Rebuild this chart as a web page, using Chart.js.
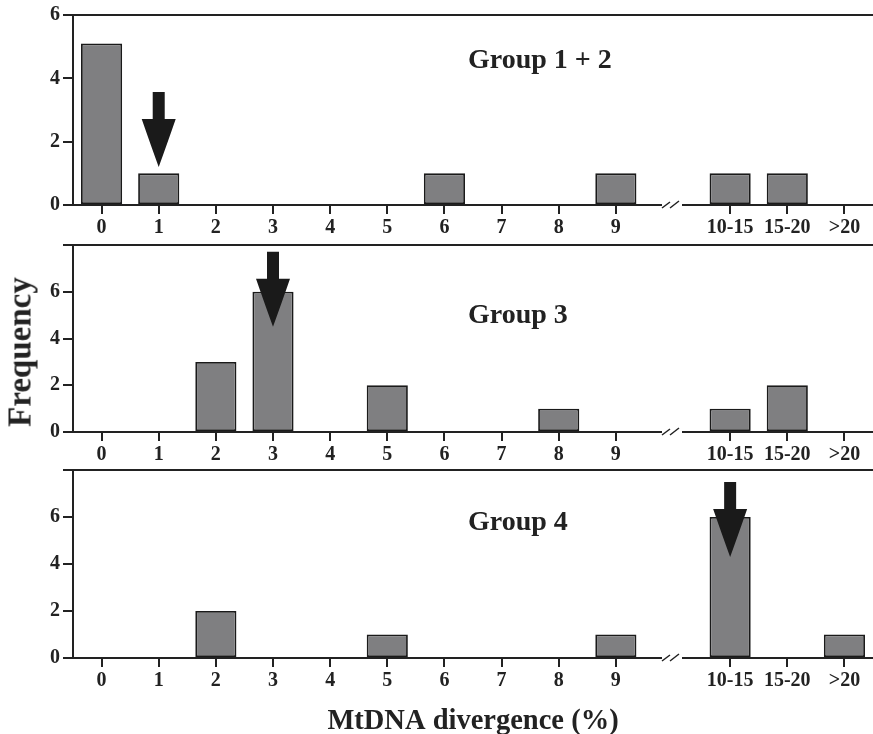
<!DOCTYPE html>
<html>
<head>
<meta charset="utf-8">
<script src="https://cdn.jsdelivr.net/npm/chart.js@4.4.0/dist/chart.umd.min.js"></script>
<style>
    body { margin: 0; background: #fff; }
    #wrap { position: relative; width: 873px; height: 734px; overflow: hidden; }
    .panel { position: absolute; left: 0; width: 873px; }
    #freq {
        position: absolute; left: 20px; top: 352px;
        transform: translate(-50%, -50%) rotate(-90deg);
        font: bold 33px 'Liberation Serif', 'Times New Roman', serif;
        color: #222; white-space: nowrap;
    }
</style>
</head>
<body>
<div id="wrap">
    <div class="panel" style="top:0;height:240px"><canvas id="g12"></canvas></div>
    <div class="panel" style="top:230px;height:237px"><canvas id="g3"></canvas></div>
    <div class="panel" style="top:455px;height:284px"><canvas id="g4"></canvas></div>
    <div id="freq">Frequency</div>
</div>
<script>
    // categories, '' is the axis break slot
    var categories = ['0', '1', '2', '3', '4', '5', '6', '7', '8', '9', '', '10-15', '15-20', '>20'];

    var group12 = [5.1, 1, 0, 0, 0, 0, 1, 0, 0, 1, null, 1, 1, 0];
    var group3  = [0, 0, 3, 6, 0, 2, 0, 0, 1, 0, null, 1, 2, 0];
    var group4  = [0, 0, 2, 0, 0, 1, 0, 0, 0, 1, null, 6, 0, 1];

    var groupNames = ['Group 1 + 2', 'Group 3', 'Group 4'];
    var yMax = [6, 8, 8];

    // arrow: category it points at, value of the tip
    var arrowCats = ['1', '3', '10-15'];
    var arrowTips = [1.2, 4.5, 4.3];

    var INK = '#222';
    var SERIF = "'Liberation Serif', 'Times New Roman', serif";

    var panelPlugin = {
        id: 'panelDeco',
        afterDraw: function(chart) {
            var o = chart.options.plugins.panelDeco;
            var ctx = chart.ctx, area = chart.chartArea;
            var xs = chart.scales.x, ys = chart.scales.y;
            ctx.save();

            // top frame line
            ctx.strokeStyle = INK;
            ctx.lineWidth = 2;
            ctx.beginPath();
            ctx.moveTo(area.left, area.top);
            ctx.lineTo(area.right, area.top);
            ctx.stroke();

            // axis break //
            var bx = xs.getPixelForValue(categories.indexOf(''));
            var by = area.bottom;
            ctx.fillStyle = '#fff';
            ctx.fillRect(bx - 11, by - 3, 20, 6);
            ctx.lineWidth = 1.5;
            ctx.beginPath();
            ctx.moveTo(bx - 11, by + 3); ctx.lineTo(bx - 3, by - 3);
            ctx.moveTo(bx - 3, by + 3);  ctx.lineTo(bx + 6, by - 4);
            ctx.stroke();

            // arrow
            var ax = xs.getPixelForValue(categories.indexOf(o.arrowCat));
            var tip = ys.getPixelForValue(o.arrowTip);
            var head = 48, shaft = 27, hw = 17, sw = 6;
            ctx.fillStyle = '#1a1a1a';
            ctx.beginPath();
            ctx.moveTo(ax - sw, tip - head - shaft);
            ctx.lineTo(ax + sw, tip - head - shaft);
            ctx.lineTo(ax + sw, tip - head);
            ctx.lineTo(ax + hw, tip - head);
            ctx.quadraticCurveTo(ax + 8, tip - 22, ax, tip);
            ctx.quadraticCurveTo(ax - 8, tip - 22, ax - hw, tip - head);
            ctx.lineTo(ax - sw, tip - head);
            ctx.closePath();
            ctx.fill();

            // group label
            ctx.fillStyle = INK;
            ctx.font = 'bold 28px ' + SERIF;
            ctx.textAlign = 'left';
            ctx.textBaseline = 'middle';
            ctx.fillText(o.label, o.labelX, area.top + o.labelDy);
            ctx.restore();
        }
    };

    function makePanel(id, values, i, opts) {
        var tickFont = { family: SERIF, size: 20, weight: 'bold' };
        return new Chart(document.getElementById(id), {
            type: 'bar',
            data: {
                labels: categories,
                datasets: [{
                    data: values,
                    backgroundColor: '#7f7f81',
                    borderColor: '#1a1a1a',
                    borderWidth: function(c) { return c.raw ? 1.8 : 0; },
                    borderSkipped: false,
                    barPercentage: 0.72,
                    categoryPercentage: 1
                }]
            },
            options: {
                responsive: true,
                maintainAspectRatio: false,
                animation: false,
                layout: { padding: { top: opts.padTop, left: 0, right: 0, bottom: 0 } },
                plugins: {
                    legend: { display: false },
                    tooltip: { enabled: false },
                    panelDeco: {
                        label: groupNames[i],
                        labelX: 468,
                        labelDy: opts.labelDy,
                        arrowCat: arrowCats[i],
                        arrowTip: arrowTips[i]
                    }
                },
                scales: {
                    x: {
                        afterFit: function(s) { s.height = opts.xHeight; },
                        grid: {
                            offset: false,
                            drawOnChartArea: false,
                            tickLength: 9,
                            lineWidth: 2,
                            color: function(c) { return categories[c.index] === '' ? 'rgba(0,0,0,0)' : INK; }
                        },
                        border: { display: true, color: INK, width: 2 },
                        ticks: { autoSkip: false, maxRotation: 0, color: INK, font: tickFont, padding: 2 },
                        title: {
                            display: !!opts.xTitle,
                            text: opts.xTitle || '',
                            color: INK,
                            font: { family: SERIF, size: 28.5, weight: 'bold' },
                            padding: { top: 0, bottom: 0 }
                        }
                    },
                    y: {
                        min: 0,
                        max: yMax[i],
                        afterFit: function(s) { s.width = 73; },
                        grid: { drawOnChartArea: false, tickLength: 10, lineWidth: 2, color: INK },
                        border: { display: true, color: INK, width: 2 },
                        ticks: {
                            stepSize: 2,
                            color: INK,
                            font: tickFont,
                            padding: 3,
                            callback: function(v) { return v === 8 ? '' : v; }
                        }
                    }
                }
            },
            plugins: [panelPlugin]
        });
    }

    makePanel('g12', group12, 0, { padTop: 14, xHeight: 35, labelDy: 46 });
    makePanel('g3', group3, 1, { padTop: 12, xHeight: 35, labelDy: 71 });
    makePanel('g4', group4, 2, { padTop: 12, xHeight: 81, labelDy: 53, xTitle: 'MtDNA divergence (%)' });
</script>
</body>
</html>
